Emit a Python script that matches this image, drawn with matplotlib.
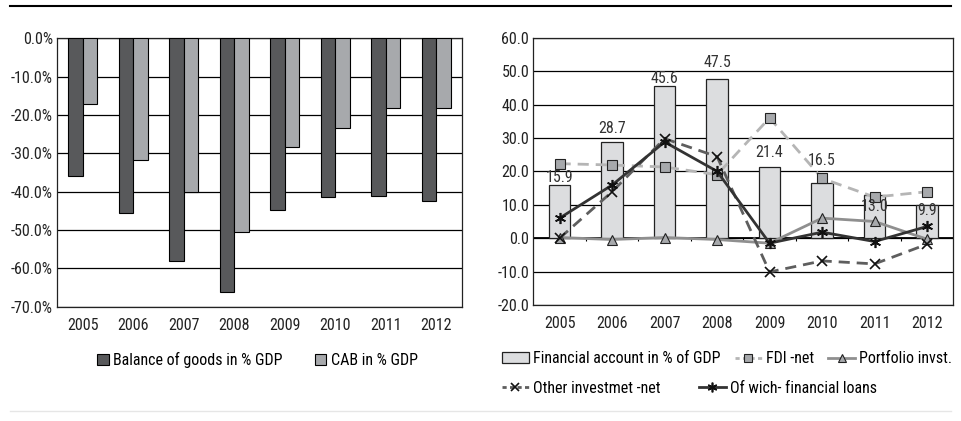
import os
import numpy as np
import matplotlib.pyplot as plt
from matplotlib import font_manager
from matplotlib.lines import Line2D
from matplotlib.patches import Patch

# prefer a narrow sans face; fall back to plain sans
wanted = ['LiberationSansNarrow-Regular', 'RobotoCondensed-Regular', 'DejaVuSansCondensed.ttf',
          'OpenSans_Condensed-Regular', 'NotoSans-CondensedRegular']
chosen = None
for key in wanted:
    for f in font_manager.fontManager.ttflist:
        if key in os.path.basename(f.fname):
            chosen = f
            break
    if chosen:
        break
if chosen is not None:
    plt.rcParams['font.family'] = [chosen.name, 'DejaVu Sans']
    plt.rcParams['font.stretch'] = chosen.stretch
else:
    plt.rcParams['font.family'] = ['Liberation Sans', 'DejaVu Sans']

years = ['2005', '2006', '2007', '2008', '2009', '2010', '2011', '2012']

# left chart, % of GDP
balance_goods = [-35.8, -45.5, -58.2, -66.1, -44.9, -41.3, -41.0, -42.4]
cab = [-17.1, -31.8, -40.1, -50.4, -28.4, -23.5, -18.3, -18.3]

# right chart
fin_account = [15.9, 28.7, 45.6, 47.5, 21.4, 16.5, 13.0, 9.9]
fdi_net = [22.3, 21.9, 21.3, 19.0, 36.0, 17.9, 12.3, 13.9]
portfolio = [0.2, -0.4, 0.2, -0.4, -1.5, 6.0, 5.0, -0.3]
other_inv = [0.0, 13.9, 29.8, 24.4, -10.1, -6.8, -7.7, -1.8]
fin_loans = [6.0, 15.9, 28.8, 20.0, -1.5, 1.8, -1.0, 3.5]

FS = 11.5 if chosen is not None else 10.5
x = np.arange(len(years))

fig = plt.figure(figsize=(9.61, 4.21), dpi=100)

# ---- left chart
ax1 = fig.add_axes([0.0596, 0.2715, 0.4208, 0.6375])
w = 0.285
ax1.bar(x - w/2, balance_goods, w, color='#58595b', edgecolor='black', linewidth=0.8, zorder=3)
ax1.bar(x + w/2, cab, w, color='#a7a9ac', edgecolor='black', linewidth=0.8, zorder=3)
ax1.set_xlim(-0.5, len(years) - 0.5)
ax1.set_ylim(-70, 0)
ax1.set_yticks(np.arange(-70, 1, 10))
ax1.set_yticklabels([f'{v:.1f}%' for v in np.arange(-70, 1, 10)])
ax1.set_xticks(x)
ax1.set_xticklabels(years)
ax1.grid(axis='y', color='black', linewidth=0.9, zorder=0)
ax1.tick_params(axis='both', length=0, labelsize=FS, colors='#222222')
ax1.tick_params(axis='x', pad=8)
ax1.tick_params(axis='y', pad=3)
for s in ax1.spines.values():
    s.set_color('#222222')
    s.set_linewidth(0.9)

h1 = [Patch(facecolor='#58595b', edgecolor='black', linewidth=0.8),
      Patch(facecolor='#a7a9ac', edgecolor='black', linewidth=0.8)]
fig.legend(h1, ['Balance of goods in % GDP', 'CAB in % GDP'], ncol=2,
           loc='center', bbox_to_anchor=(0.268, 0.145), frameon=False,
           fontsize=FS, handlelength=0.7, handleheight=0.7, handletextpad=0.3,
           columnspacing=2.0)

# ---- right chart
ax2 = fig.add_axes([0.555, 0.2755, 0.437, 0.635])
ax2.bar(x, fin_account, 0.41, color='#dcdddf', edgecolor='#222222', linewidth=0.9, zorder=3)
label_dy = [0, 4.5, 0, 6.5, 4.5, 11, -14, -9]
for xi, v, dy in zip(x, fin_account, label_dy):
    ax2.annotate(f'{v:.1f}', (xi, v), xytext=(0, dy), textcoords='offset points',
                 ha='center', va='bottom', fontsize=FS, color='#333333', zorder=6)

ax2.plot(x, fdi_net, color='#b5b5b5', linestyle=(0, (4, 2.5)), linewidth=2,
         marker='s', markersize=7, markerfacecolor='#a7a9ac', markeredgecolor='#222222',
         markeredgewidth=0.8, zorder=4)
ax2.plot(x, portfolio, color='#8f8f8f', linestyle='-', linewidth=2,
         marker='^', markersize=7, markerfacecolor='#a7a9ac', markeredgecolor='#222222',
         markeredgewidth=0.8, zorder=4)
ax2.plot(x, other_inv, color='#5e5e5e', linestyle=(0, (4, 2.5)), linewidth=2,
         marker='x', markersize=7, markeredgecolor='#111111', markeredgewidth=1.2, zorder=5)
ax2.plot(x, fin_loans, color='#333333', linestyle='-', linewidth=2,
         marker=(6, 2, 0), markersize=8, markeredgecolor='#111111', markeredgewidth=1.2, zorder=5)

ax2.set_xlim(-0.5, len(years) - 0.5)
ax2.set_ylim(-20, 60)
ax2.set_yticks(np.arange(-20, 61, 10))
ax2.set_yticklabels([f'{v:.1f}' for v in np.arange(-20, 61, 10)])
ax2.set_xticks(x)
ax2.set_xticklabels(years)
ax2.grid(axis='y', color='black', linewidth=0.9, zorder=0)
ax2.axhline(0, color='black', linewidth=1.3, zorder=2)
ax2.vlines(x[:-1] + 0.5, -0.9, 0, color='black', linewidth=0.8, zorder=2)
ax2.tick_params(axis='both', length=0, labelsize=FS, colors='#222222')
ax2.tick_params(axis='x', pad=8)
ax2.tick_params(axis='y', pad=3)
for s in ax2.spines.values():
    s.set_color('#222222')
    s.set_linewidth(0.9)

hb = Patch(facecolor='#dcdddf', edgecolor='#222222', linewidth=0.9)
hf = Line2D([], [], color='#b5b5b5', linestyle=(0, (1.5, 1.2)), linewidth=2, marker='s',
            markersize=6, markerfacecolor='#a7a9ac', markeredgecolor='#222222', markeredgewidth=0.8)
hp = Line2D([], [], color='#8f8f8f', linewidth=2, marker='^', markersize=6,
            markerfacecolor='#a7a9ac', markeredgecolor='#222222', markeredgewidth=0.8)
ho = Line2D([], [], color='#5e5e5e', linestyle=(0, (1.5, 1.2)), linewidth=2, marker='x',
            markersize=6, markeredgecolor='#111111', markeredgewidth=1.2)
hl = Line2D([], [], color='#333333', linewidth=2, marker=(6, 2, 0), markersize=7,
            markeredgecolor='#111111', markeredgewidth=1.2)

fig.legend([hb, hf, hp], ['Financial account in % of GDP', 'FDI -net', 'Portfolio invst.'],
           ncol=3, loc='center left', bbox_to_anchor=(0.522, 0.148), frameon=False,
           fontsize=FS, handlelength=1.7, handleheight=0.6, handletextpad=0.25,
           columnspacing=0.9, borderpad=0, borderaxespad=0)
fig.legend([ho, hl], ['Other investmet -net', 'Of wich- financial loans'],
           ncol=2, loc='center left', bbox_to_anchor=(0.522, 0.078), frameon=False,
           fontsize=FS, handlelength=1.7, handletextpad=0.25, columnspacing=2.4,
           borderpad=0, borderaxespad=0)

# separator lines
fig.add_artist(Line2D([0.01, 0.99], [0.986, 0.986], color='black', linewidth=1.5))
fig.add_artist(Line2D([0.01, 0.99], [0.024, 0.024], color='#e6e6e6', linewidth=1))

fig.savefig('out.png', dpi=100)
